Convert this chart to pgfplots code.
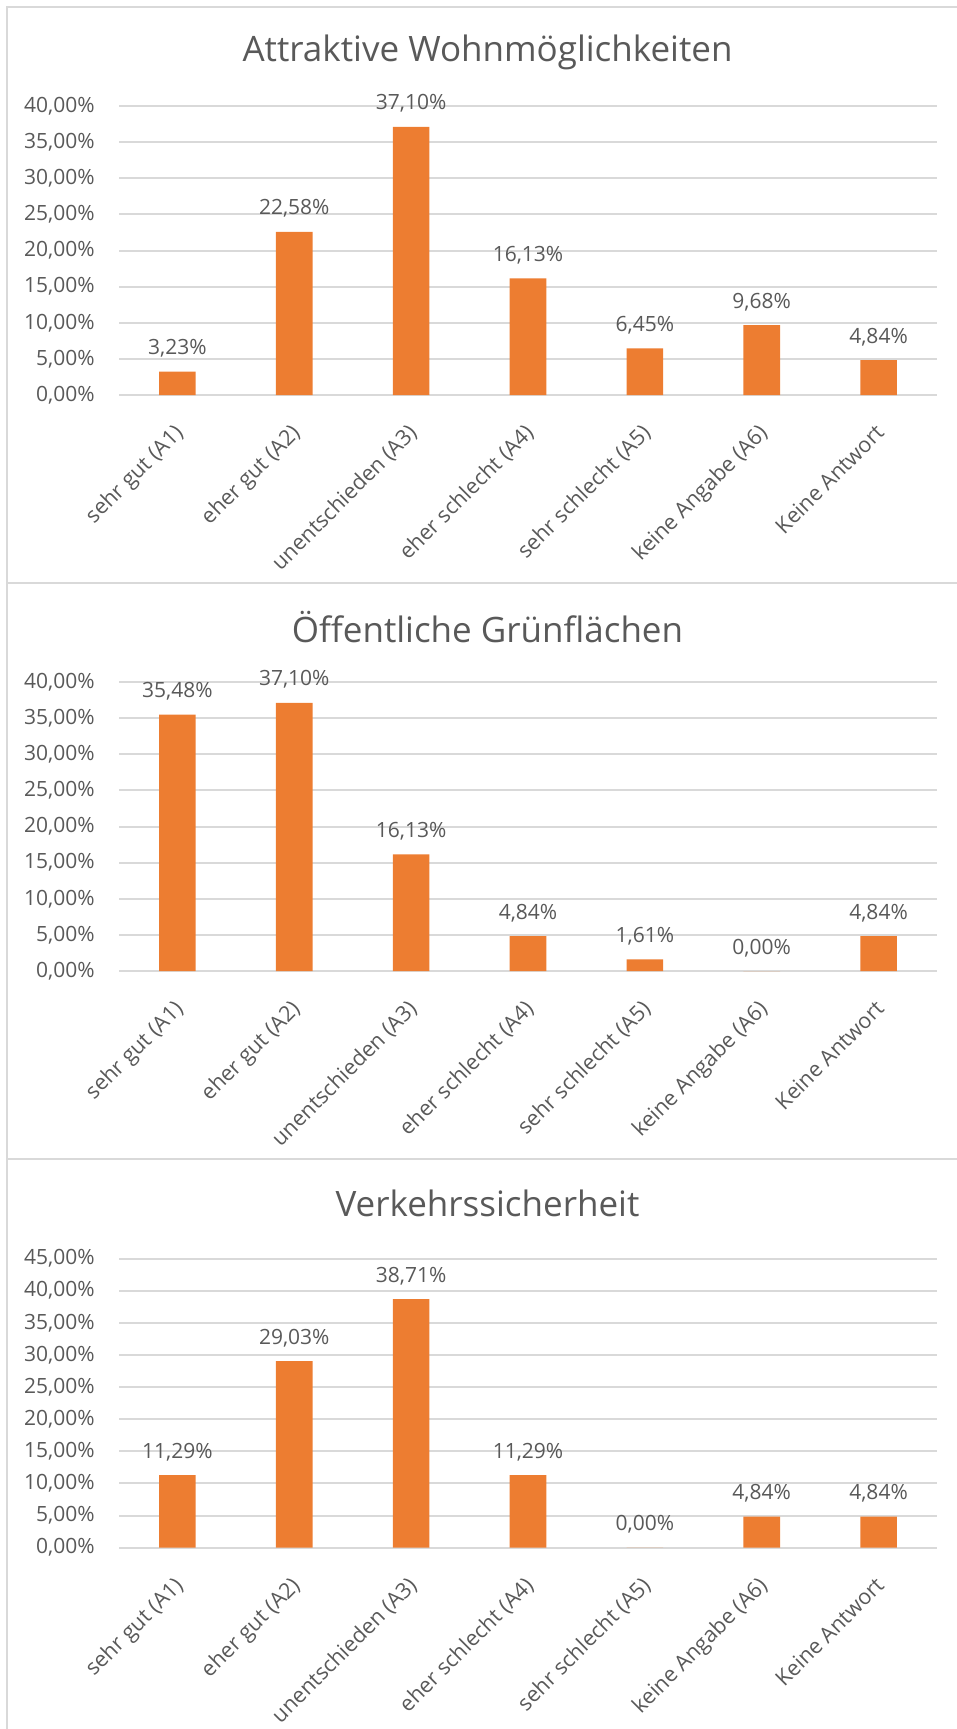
\documentclass[border=0pt]{standalone}
\usepackage{fontspec}
\setmainfont{Open Sans}
\usepackage{pgfplots}
\usepackage{pgfplotstable}
\pgfplotsset{compat=1.18}

\definecolor{barorange}{HTML}{ED7D31}
\definecolor{gridgray}{HTML}{D9D9D9}
\definecolor{textgray}{HTML}{595959}

% Anteile in Prozent je Antwortkategorie
\pgfplotstableread{
x  wohnen gruen verkehr
0  3.23   35.48 11.29
1  22.58  37.10 29.03
2  37.10  16.13 38.71
3  16.13  4.84  11.29
4  6.45   1.61  0.00
5  9.68   0.00  4.84
6  4.84   4.84  4.84
}\daten

\pgfplotsset{
  umfrage/.style={
    width=409pt, height=144.5pt, scale only axis,
    anchor=south west,
    xmin=-0.5, xmax=6.5, ymin=0,
    xtick={0,...,6},
    xticklabels={sehr gut (A1), eher gut (A2), unentschieden (A3), eher schlecht (A4), sehr schlecht (A5), keine Angabe (A6), Keine Antwort},
    ymajorgrids,
    grid style={draw=gridgray, line width=1pt},
    axis line style={draw=none},
    major tick length=0pt,
    /pgf/number format/assume math mode=true,
    tick label style={font=\fontsize{10.5}{12}\selectfont, text=textgray},
    yticklabel={\pgfmathprintnumber[fixed,fixed zerofill,precision=2,use comma]{\tick}\%},
    yticklabel style={inner sep=0pt, xshift=-12pt},
    xticklabel style={inner sep=0pt, xshift=3.5pt, yshift=-19.5pt, rotate=45, anchor=base east,
      font=\fontsize{10.8}{12}\selectfont},
    ybar, bar width=18.3pt,
    nodes near coords={\pgfmathprintnumber[fixed,fixed zerofill,precision=2,use comma,assume math mode=true]{\pgfplotspointmeta}\%},
    every node near coord/.append style={anchor=base, yshift=8.5pt, inner sep=0pt,
      font=\fontsize{10.5}{12}\selectfont, text=textgray},
  }
}

\begin{document}
\begin{tikzpicture}
\useasboundingbox (0,0) rectangle (478.5pt,-864.5pt);

% Rahmen der drei Diagramme
\foreach \k in {0,1,2} {
  \draw[gridgray, line width=1pt] (3.5pt,{-3.5pt-288pt*\k}) rectangle (490pt,{-291.5pt-288pt*\k});
}

\node[text=textgray, font=\fontsize{17.5}{20}\selectfont] at (243.75pt,-26pt) {Attraktive Wohnmöglichkeiten};
\node[text=textgray, font=\fontsize{17.5}{20}\selectfont] at (243.75pt,-313.5pt) {Öffentliche Grünflächen};
\node[text=textgray, font=\fontsize{17.5}{20}\selectfont] at (243.75pt,-601.5pt) {Verkehrssicherheit};

\begin{axis}[umfrage, at={(59.5pt,-197.5pt)}, ymax=40, ytick={0,5,...,40}]
\addplot[fill=barorange, draw=none] table[x=x, y=wohnen] {\daten};
\end{axis}

\begin{axis}[umfrage, at={(59.5pt,-485.5pt)}, ymax=40, ytick={0,5,...,40}]
\addplot[fill=barorange, draw=none] table[x=x, y=gruen] {\daten};
\end{axis}

\begin{axis}[umfrage, at={(59.5pt,-773.8pt)}, ymax=45, ytick={0,5,...,45}]
\addplot[fill=barorange, draw=none] table[x=x, y=verkehr] {\daten};
\end{axis}
\end{tikzpicture}
\end{document}
